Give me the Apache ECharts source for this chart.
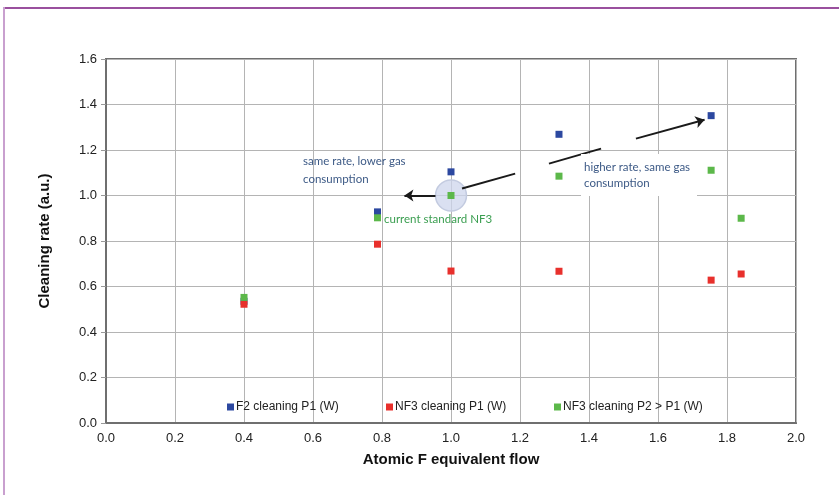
<!DOCTYPE html>
<html><head><meta charset="utf-8">
<script src="https://cdn.jsdelivr.net/npm/echarts@6/dist/echarts.min.js"></script>
<style>html,body{margin:0;padding:0;background:#fff}#c{width:839px;height:495px}</style>
</head><body><div id="c"></div>
<script>
var xTicks = [0.0, 0.2, 0.4, 0.6, 0.8, 1.0, 1.2, 1.4, 1.6, 1.8, 2.0];
var yTicks = [0.0, 0.2, 0.4, 0.6, 0.8, 1.0, 1.2, 1.4, 1.6];
var seriesNames = ['F2 cleaning P1 (W)', 'NF3 cleaning P1 (W)', 'NF3 cleaning P2 > P1 (W)'];
var xF2 = [0.4, 0.787, 1.0, 1.313, 1.754];
var yF2 = [0.535, 0.928, 1.104, 1.269, 1.351];
var xNF3 = [0.4, 0.787, 1.0, 1.313, 1.754, 1.841];
var yNF3 = [0.522, 0.786, 0.668, 0.667, 0.628, 0.655];
var xNF3P2 = [0.4, 0.787, 1.0, 1.313, 1.754, 1.841];
var yNF3P2 = [0.552, 0.902, 1.0, 1.085, 1.111, 0.900];
var highlightPt = [1.0, 1.0];
var arrowLeft = [[0.955, 1.0], [0.865, 1.0]];
var arrowRight = [[[1.032, 1.031], [1.186, 1.096]], [[1.284, 1.140], [1.435, 1.206]], [[1.536, 1.25], [1.735, 1.333]]];

function zip(xs, ys) { return xs.map(function (x, i) { return [x, ys[i]]; }); }
var colors = ['#2c48a0', '#e8302c', '#5cb84a'];
var chart = echarts.init(document.getElementById('c'));
function legendFor(i, left) {
  return { data: [seriesNames[i]], left: left, top: 396, itemWidth: 7, itemHeight: 7, icon: 'rect', itemGap: 4,
    textStyle: { fontFamily: 'Liberation Sans', fontSize: 12, color: '#222', padding: [0, 0, 0, -3] } };
}
var arrowStyle = { color: '#1a1a1a', width: 2, type: 'solid' };
var mlData = [[{ coord: arrowLeft[0], symbol: 'none' }, { coord: arrowLeft[1], symbol: 'arrow', symbolSize: [9, 9] }]];
arrowRight.forEach(function (s, i) {
  mlData.push([{ coord: s[0], symbol: 'none' }, { coord: s[1], symbol: i === arrowRight.length - 1 ? 'arrow' : 'none', symbolSize: [9, 9] }]);
});
chart.setOption({
  animation: false,
  backgroundColor: '#fff',
  grid: { left: 106, right: 43, top: 59, bottom: 72, show: true, borderColor: '#6f6f6f', borderWidth: 2 },
  legend: [legendFor(0, 222), legendFor(1, 381), legendFor(2, 549)],
  xAxis: {
    type: 'value', min: 0, max: 2, interval: 0.2,
    name: 'Atomic F equivalent flow', nameLocation: 'middle', nameGap: 29,
    nameTextStyle: { fontFamily: 'Liberation Sans', fontSize: 15, fontWeight: 'bold', color: '#111' },
    axisLine: { show: true, lineStyle: { color: '#6f6f6f', width: 2 } },
    axisTick: { show: false },
    axisLabel: { fontFamily: 'Liberation Sans', fontSize: 13, color: '#222', margin: 9, formatter: function (v) { return v.toFixed(1); } },
    splitLine: { show: true, lineStyle: { color: '#b4b4b4', width: 1 } }
  },
  yAxis: {
    type: 'value', min: 0, max: 1.6, interval: 0.2,
    name: 'Cleaning rate (a.u.)', nameLocation: 'middle', nameGap: 54, nameRotate: 90,
    nameTextStyle: { fontFamily: 'Liberation Sans', fontSize: 15, fontWeight: 'bold', color: '#111' },
    axisLine: { show: true, lineStyle: { color: '#6f6f6f', width: 2 } },
    axisTick: { show: true, inside: false, length: 5, lineStyle: { color: '#999', width: 1 } },
    axisLabel: { fontFamily: 'Liberation Sans', fontSize: 13, color: '#222', margin: 9, formatter: function (v) { return v.toFixed(1); } },
    splitLine: { show: true, lineStyle: { color: '#b4b4b4', width: 1 } }
  },
  series: [
    { name: 'highlight', type: 'scatter', data: [highlightPt], symbol: 'circle', symbolSize: 31, z: 1, silent: true,
      itemStyle: { color: 'rgba(205,214,236,0.75)', borderColor: '#c3cbe0', borderWidth: 1.5, opacity: 1 },
      markLine: { silent: true, animation: false, lineStyle: arrowStyle, label: { show: false }, data: mlData } },
    { name: seriesNames[0], type: 'scatter', data: zip(xF2, yF2), symbol: 'rect', symbolSize: 7, z: 3, itemStyle: { color: colors[0], opacity: 1 } },
    { name: seriesNames[1], type: 'scatter', data: zip(xNF3, yNF3), symbol: 'rect', symbolSize: 7, z: 3, itemStyle: { color: colors[1], opacity: 1 } },
    { name: seriesNames[2], type: 'scatter', data: zip(xNF3P2, yNF3P2), symbol: 'rect', symbolSize: 7, z: 4, itemStyle: { color: colors[2], opacity: 1 } }
  ],
  graphic: [
    { type: 'rect', shape: { x: 4, y: 7, width: 835, height: 2 }, style: { fill: '#9a509e' }, z: 100 },
    { type: 'rect', shape: { x: 3, y: 7, width: 2, height: 488 }, style: { fill: '#c9a0cf' }, z: 100 },
    { type: 'rect', shape: { x: 581, y: 154, width: 116, height: 42 }, style: { fill: '#fff' }, z: 50 },
    { type: 'text', left: 584, top: 159, z: 51, style: { text: 'higher rate, same gas\nconsumption', fill: '#3d5a86', font: '11.5px Lato', lineHeight: 16 } },
    { type: 'text', left: 303, top: 152, z: 51, style: { text: 'same rate, lower gas\nconsumption', fill: '#3d5a86', font: '11.5px Lato', lineHeight: 18 } },
    { type: 'text', left: 384, top: 213, z: 51, style: { text: 'current standard NF3', fill: '#3a9e50', font: '11.5px Lato' } }
  ]
});
</script></body></html>
